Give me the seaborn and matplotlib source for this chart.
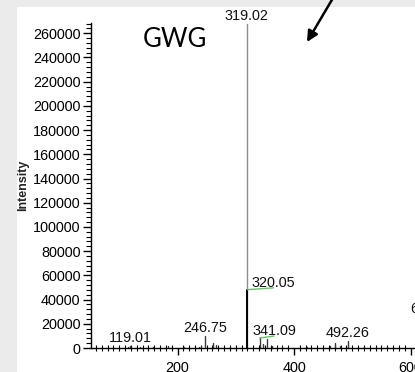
import numpy as np
import pandas as pd
import matplotlib
matplotlib.use("Agg")
import matplotlib.pyplot as plt
from matplotlib.patches import Rectangle, FancyArrowPatch
from matplotlib.ticker import MultipleLocator, FixedLocator, FuncFormatter
import seaborn as sns

# ---- spectrum data (m/z, intensity) ----
mz = [115.0, 119.01, 136.1, 158.0, 183.2, 212.0, 236.5, 241.0, 246.75,
      260.1, 265.6, 290.0, 319.02, 320.05, 341.09, 347.1, 354.1, 362.0,
      380.0, 423.0, 462.0, 470.3, 479.0, 492.26, 520.0, 560.0, 637.34]
intensity = [900, 1700, 1100, 900, 1300, 900, 1200, 2000, 9900,
             4000, 2500, 900, 268000, 48200, 8260, 3500, 7200, 1500,
             900, 800, 1500, 4100, 1800, 5800, 900, 800, 26000]

# labelled peaks: plain labels sit above the stick, leader labels are offset
above_labels = [119.01, 246.75, 319.02, 492.26, 637.34]
leader_labels = [320.05, 341.09]

x_ticks = [200, 400, 600]
y_ticks = list(range(0, 260001, 20000))
sample_name = "GWG"

sns.set_style("ticks")
plt.rcParams["font.family"] = ["Liberation Sans", "DejaVu Sans"]

W, H = 415, 372
fig = plt.figure(figsize=(W / 100, H / 100), dpi=100)
fig.patch.set_facecolor("#ebebeb")
fig.patches.append(Rectangle((17 / W, 0), 1, 1 - 7 / H, transform=fig.transFigure,
                             facecolor="white", edgecolor="none", zorder=-5))

ax = fig.add_axes([91 / W, 1 - 348 / H, 1 - 91 / W, (348 - 23) / H])
ax.set_facecolor("none")
ax.set_zorder(2)

# long-form table: each peak becomes a vertical stick from the baseline
tone = {319.02: "base", 320.05: "iso"}
rows = []
for i, (m, v) in enumerate(zip(mz, intensity)):
    t = tone.get(m, "trace")
    rows.append({"mz": m, "intensity": 0, "peak": i, "tone": t})
    rows.append({"mz": m, "intensity": v, "peak": i, "tone": t})
df = pd.DataFrame(rows)

sns.lineplot(data=df, x="mz", y="intensity", units="peak", estimator=None,
             hue="tone", hue_order=["trace", "base", "iso"],
             palette={"trace": "#3a3a3a", "base": "#8c8c8c", "iso": "#000000"},
             size="tone", sizes={"trace": 1.0, "base": 1.0, "iso": 1.4},
             sort=False, legend=False, ax=ax)

ax.set_xlim(51.5, 607.7)
ax.set_ylim(0, 268500)

lab_kw = dict(fontsize=10.4, color="#111111")
peak_val = dict(zip(mz, intensity))
for m in above_labels:
    ax.annotate(f"{m:.2f}", xy=(m, peak_val[m]), xytext=(0, 2.6),
                textcoords="offset points", ha="center", va="baseline",
                annotation_clip=False, **lab_kw)

leader_offsets = {320.05: (18.7, 1.3), 341.09: (10.3, 1.4)}
for m in leader_labels:
    dx, dy = leader_offsets[m]
    ax.annotate("", xy=(m, peak_val[m]), xytext=(dx, dy), textcoords="offset points",
                arrowprops=dict(arrowstyle="-", color="#6cc06c", lw=1.0,
                                shrinkA=0, shrinkB=0))
    ax.annotate(f"{m:.2f}", xy=(m, peak_val[m]), xytext=(dx, dy + 0.7),
                textcoords="offset points", ha="center", va="baseline", **lab_kw)

# axes styling
for s in ["top", "right"]:
    ax.spines[s].set_visible(False)
for s in ["left", "bottom"]:
    ax.spines[s].set_color("black")
    ax.spines[s].set_linewidth(1.0)

ax.xaxis.set_major_locator(FixedLocator(x_ticks))
ax.xaxis.set_minor_locator(MultipleLocator(10))
ax.yaxis.set_major_locator(FixedLocator(y_ticks))
ax.yaxis.set_minor_locator(MultipleLocator(4000))
ax.yaxis.set_major_formatter(FuncFormatter(lambda v, p: f"{int(v)}"))
ax.tick_params(axis="x", which="major", direction="out", length=5, width=1,
               pad=4, labelsize=10.4, colors="black")
ax.tick_params(axis="x", which="minor", direction="inout", length=4, width=0.8,
               colors="black")
ax.tick_params(axis="y", which="major", direction="out", length=6, width=1,
               pad=1.5, labelsize=10.4, colors="black")
ax.tick_params(axis="y", which="minor", direction="out", length=3.5, width=0.8,
               colors="black")

ax.set_xlabel("")
ax.set_ylabel("Intensity", fontsize=9, fontweight="bold")
ax.yaxis.set_label_coords(29 / W, 1 - 185 / H, transform=fig.transFigure)

fig.text(175 / W, 1 - 47 / H, sample_name, ha="center", va="baseline",
         fontsize=18.5, family=["Lato", "DejaVu Sans"], color="black")

arrow = FancyArrowPatch((333 / W, 1 + 2 / H), (307 / W, 1 - 42 / H),
                        transform=fig.transFigure, arrowstyle="-|>",
                        mutation_scale=16, color="black", lw=1.8,
                        shrinkA=0, shrinkB=0)
fig.patches.append(arrow)

fig.savefig("out.png", dpi=100, facecolor=fig.get_facecolor())
